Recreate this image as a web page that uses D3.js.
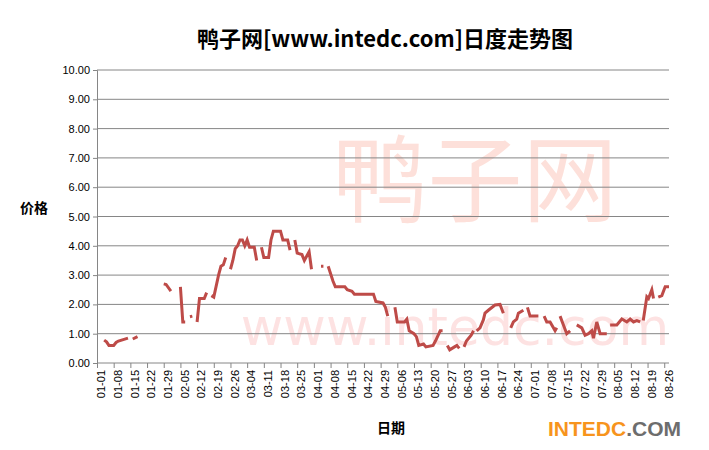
<!DOCTYPE html>
<html><head><meta charset="utf-8">
<script src="https://cdn.jsdelivr.net/npm/d3@7"></script>
<style>body{margin:0;background:#fff;font-family:"Liberation Sans",Arial,sans-serif}</style>
</head><body><svg id="c" width="709" height="450"></svg>
<script>
// days since 01-01 (2012), null price = no data
var days=[3,4,5,7,8,9,11,13,14,15,17,18,
 28,29,31,32, 35,36,37,38, 39,40,41, 42,43,45,46,47, 48,49,51,52,53,54,55,
 56,57,58,59,60,61,62,63,64,66,67,68,
 69,70,72,73,74,77,78,80,81,82, 83,84,86,87,89,90,91, 94,95,96,
 97,99,100,104,105,107,108,116,117,120,121,122,123,
 125,126,129,130,131,133,134,135,137,138,141,142,144,145,146,
 147,148,150,151,152,153, 154,155,157,158,159,
 159.3,160.7,162.1,162.8,164.2,167,169.1,170.5,172,
 173.6,174.7,176.1,176.8,178.9,179.8, 180.6,181.7,185.2,186.4,
 187.6,188.7,190.1,191.5,192.2,192.9,193.6, 194.3,195.7,197.1,198.5,199.9,
 201.3,203.4,204.8,206.2,207.6,208.3,209.7,211.1,213.9,214.6,
 215.3,218.1,220.2,222.3,223.7,225.1,226.5,227.9,228.5,
 229.2,230.7,231.4,232.8,233.5,234.5, 235.5,237,238.4,240];
var prices=[0.78,0.72,0.6,0.6,0.7,0.75,0.8,0.85,null,0.82,0.9,null,
 2.7,2.68,2.45,null, 2.6,1.4,1.4,null, 1.58,1.6,null, 1.4,2.2,2.2,2.4,null, 2.3,2.25,3.0,3.3,3.35,3.6,null,
 3.2,3.5,3.9,4.0,4.2,4.2,4.0,4.2,3.95,3.95,3.5,null,
 3.95,3.6,3.6,4.2,4.5,4.5,4.2,4.2,3.85,null, 4.2,3.75,3.7,3.5,3.8,3.2,null, 3.3,3.3,null,
 3.3,2.8,2.6,2.6,2.5,2.45,2.35,2.35,2.1,2.05,1.9,1.6,null,
 1.9,1.4,1.4,1.5,1.1,1.0,0.9,0.6,0.65,0.55,0.6,0.75,1.1,1.1,null,
 0.6,0.45,0.55,0.6,0.5,null, 0.55,0.75,0.95,1.1,null,
 1.1,1.2,1.47,1.7,1.8,1.98,2.0,1.7,null,
 1.2,1.4,1.5,1.7,1.8,null, 1.9,1.6,1.6,null,
 1.6,1.4,1.4,1.2,1.1,1.2,null, 1.6,1.3,1.0,1.1,null,
 1.3,1.2,0.95,1.0,1.1,0.85,1.4,1.0,1.0,null,
 1.3,1.3,1.5,1.4,1.5,1.4,1.45,1.4,null,
 1.45,2.26,2.2,2.5,2.2,null, 2.25,2.3,2.6,2.6];
var tickLabels=["01-01","01-08","01-15","01-22","01-29","02-05","02-12","02-19","02-26","03-04","03-11","03-18","03-25","04-01","04-08","04-15","04-22","04-29","05-06","05-13","05-20","05-27","06-03","06-10","06-17","06-24","07-01","07-08","07-15","07-22","07-29","08-05","08-12","08-19","08-26"];
var yTicks=[0,1,2,3,4,5,6,7,8,9,10];

var svg=d3.select('#c');
var x=d3.scaleLinear().domain([0,240]).range([97,669]);
var y=d3.scaleLinear().domain([0,10]).range([363,70]);

// watermark
svg.append('text').attr('x',475).attr('y',215).attr('text-anchor','middle')
   .attr('font-size',95).attr('font-family','Noto Sans CJK SC').attr('fill','#fde0da').text('鸭子网');
svg.append('text').attr('x',455).attr('y',345).attr('text-anchor','middle')
   .attr('font-size',52).attr('font-family','DejaVu Sans').attr('fill','#fde2e2').text('www.intedc.com');

// grid
svg.append('g').selectAll('line').data(yTicks.slice(1)).enter().append('line')
   .attr('x1',97).attr('x2',669).attr('y1',d=>y(d)).attr('y2',d=>y(d))
   .attr('stroke','#868686').attr('stroke-width',1);

var yAxis=svg.append('g').attr('transform','translate(97,0)')
   .call(d3.axisLeft(y).tickValues(yTicks).tickFormat(d3.format('.2f')).tickSize(4));
yAxis.selectAll('text').attr('font-size',11).attr('fill','#000');
yAxis.selectAll('path,line').attr('stroke','#868686');

var xAxis=svg.append('g').attr('transform','translate(0,363)')
   .call(d3.axisBottom(x).tickValues(d3.range(0,241,7)).tickFormat('').tickSize(5));
xAxis.selectAll('path,line').attr('stroke','#868686');
xAxis.select('path').attr('d','M97,0H669');

svg.append('g').selectAll('text').data(tickLabels).enter().append('text')
   .attr('transform',(d,i)=>'translate('+(x(i*7+1.8)+4)+',370) rotate(-90)')
   .attr('text-anchor','end').attr('font-size',11).attr('fill','#000').text(d=>d);

var line=d3.line().defined(d=>d[1]!=null).x(d=>x(d[0])).y(d=>y(d[1]));
svg.append('path').datum(days.map((d,i)=>[d,prices[i]]))
   .attr('d',line).attr('fill','none').attr('stroke','#be4b48').attr('stroke-width',3);

svg.append('text').attr('x',385).attr('y',47).attr('text-anchor','middle')
   .attr('font-size',22).attr('font-weight','bold').attr('font-family','Noto Sans CJK SC').text('鸭子网[www.intedc.com]日度走势图');
svg.append('text').attr('x',34).attr('y',213).attr('text-anchor','middle')
   .attr('font-size',14).attr('font-weight','bold').attr('font-family','Noto Sans CJK SC').text('价格');
svg.append('text').attr('x',391).attr('y',433).attr('text-anchor','middle')
   .attr('font-size',14).attr('font-weight','bold').attr('font-family','Noto Sans CJK SC').text('日期');
var logo=svg.append('text').attr('x',548).attr('y',436).attr('font-size',21)
   .attr('font-weight','bold').attr('font-family','Liberation Sans Narrow, Liberation Sans');
logo.append('tspan').attr('fill','#f7941d').text('INTEDC');
logo.append('tspan').attr('fill','#6d6d6d').text('.COM');
</script></body></html>
